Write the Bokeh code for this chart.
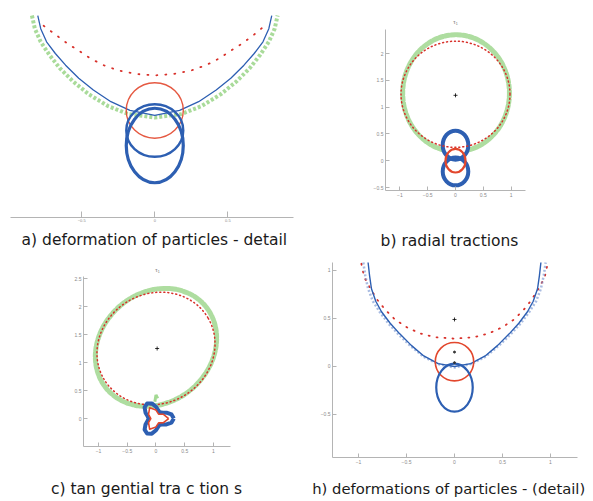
from bokeh.plotting import figure
from bokeh.models import Range1d, FixedTicker, Label
from bokeh.layouts import column, row
from bokeh.embed import file_html
from bokeh.resources import INLINE

# ---------------- data ----------------
captions = ["a) deformation of particles - detail", "b) radial tractions",
            "c) tan gential   tra c tion s", "h) deformations of particles - (detail)"]
traction_title = "τ₁"

# panel a : deformation detail
a_xticks = [-0.5, 0, 0.5]
a_green_x = [-0.84, -0.82, -0.78, -0.72, -0.65, -0.56, -0.45, -0.32, -0.18, 0.0, 0.18, 0.32, 0.45, 0.56, 0.65, 0.72, 0.78, 0.82, 0.84]
a_green_y = [0.65, 0.56, 0.47, 0.38, 0.29, 0.20, 0.11, 0.03, -0.025, -0.048, -0.025, 0.03, 0.11, 0.20, 0.29, 0.38, 0.47, 0.56, 0.65]
a_blue_x = [-0.80, -0.78, -0.74, -0.68, -0.61, -0.52, -0.42, -0.30, -0.17, 0.0, 0.17, 0.30, 0.42, 0.52, 0.61, 0.68, 0.74, 0.78, 0.80]
a_blue_y = [0.65, 0.56, 0.47, 0.39, 0.31, 0.22, 0.14, 0.06, 0.0, -0.034, 0.0, 0.06, 0.14, 0.22, 0.31, 0.39, 0.47, 0.56, 0.65]
a_red_x = [-0.76, -0.68, -0.60, -0.52, -0.44, -0.35, -0.25, -0.13, 0.0, 0.13, 0.25, 0.35, 0.44, 0.52, 0.60, 0.68, 0.74]
a_red_y = [0.58, 0.52, 0.46, 0.41, 0.356, 0.31, 0.274, 0.25, 0.24, 0.25, 0.274, 0.31, 0.356, 0.41, 0.46, 0.52, 0.57]
a_red_circle = dict(x=0.0, y=0.0, w=0.39, h=0.38)
a_blue_oval = dict(x=0.0, y=-0.24, w=0.39, h=0.51)
a_blue_ring = dict(x=0.0, y=-0.137, w=0.39, h=0.36)

# panel b : radial tractions
b_xticks = [-1, -0.5, 0, 0.5, 1]
b_yticks = [-0.5, 0, 0.5, 1, 1.5, 2]
b_green = dict(x=0.01, y=1.26, w=1.92, h=2.18)
b_red_dot = dict(x=0.0, y=1.24, w=1.96, h=1.98)
b_blue_upper = dict(x=0.0, y=0.29, w=0.46, h=0.54)
b_blue_lower = dict(x=0.0, y=-0.20, w=0.46, h=0.52)
b_red_circle = dict(x=0.0, y=0.0, w=0.36, h=0.44)
b_center = (0.0, 1.22)

# panel c : tangential tractions
c_xticks = [-1, -0.5, 0, 0.5, 1]
c_yticks = [0, 0.5, 1, 1.5, 2, 2.5]
c_green = dict(x=0.0, y=1.27, w=2.24, h=1.96, angle=40)
c_red_dot = dict(x=0.0, y=1.25, w=2.10, h=1.96, angle=30)
c_blue_x = [0.31, 0.27, 0.182, 0.106, 0.065, 0.039, 0.0, -0.073, -0.155, -0.198, -0.182, -0.145, -0.13,
            -0.145, -0.182, -0.198, -0.155, -0.073, 0.0, 0.039, 0.065, 0.106, 0.182, 0.27, 0.31]
c_blue_y = [0.0, 0.073, 0.105, 0.106, 0.113, 0.145, 0.21, 0.27, 0.268, 0.198, 0.105, 0.039, 0.0,
            -0.039, -0.105, -0.198, -0.268, -0.27, -0.21, -0.145, -0.113, -0.106, -0.105, -0.073, 0.0]
c_red_x = [0.22, 0.13, 0.045, 0.0, -0.11, -0.13, -0.09, -0.13, -0.11, 0.0, 0.045, 0.13, 0.22]
c_red_y = [0.0, 0.075, 0.078, 0.15, 0.19, 0.075, 0.0, -0.075, -0.19, -0.15, -0.078, -0.075, 0.0]
c_green_tail_x = [-0.02, 0.0, 0.03]
c_green_tail_y = [0.30, 0.42, 0.36]
c_center = (0.02, 1.25)

# panel h/d : deformation detail
d_xticks = [-1, -0.5, 0, 0.5, 1]
d_yticks = [-0.5, 0, 0.5, 1]
d_blue_x = [-0.90, -0.885, -0.865, -0.82, -0.76, -0.67, -0.57, -0.45, -0.32, -0.17, 0.0,
            0.17, 0.32, 0.45, 0.57, 0.67, 0.76, 0.82, 0.865, 0.885, 0.90]
d_blue_y = [1.083, 0.95, 0.81, 0.68, 0.57, 0.45, 0.34, 0.22, 0.11, 0.03, 0.0,
            0.03, 0.11, 0.22, 0.34, 0.45, 0.57, 0.68, 0.81, 0.95, 1.083]
d_bluemk_x = [-0.95, -0.93, -0.90, -0.85, -0.78, -0.69, -0.58, -0.46, -0.32, -0.17, 0.0,
              0.17, 0.32, 0.46, 0.58, 0.69, 0.78, 0.85, 0.90, 0.93, 0.95]
d_bluemk_y = [1.083, 0.95, 0.81, 0.68, 0.57, 0.45, 0.33, 0.215, 0.10, 0.025, -0.01,
              0.025, 0.10, 0.215, 0.33, 0.45, 0.57, 0.68, 0.81, 0.95, 1.083]
d_red_x = [-0.97, -0.94, -0.875, -0.80, -0.72, -0.62, -0.50, -0.36, -0.20, 0.0,
           0.20, 0.36, 0.50, 0.62, 0.72, 0.80, 0.875, 0.94, 0.97]
d_red_y = [1.07, 0.93, 0.81, 0.69, 0.59, 0.49, 0.41, 0.345, 0.305, 0.29,
           0.305, 0.345, 0.41, 0.49, 0.59, 0.69, 0.81, 0.93, 1.07]
d_red_circle = dict(x=0.0, y=0.05, w=0.40, h=0.40)
d_blue_oval = dict(x=0.0, y=-0.22, w=0.38, h=0.50)
d_center = (0.0, 0.49)
d_small_pts_x = [0.0, 0.0]
d_small_pts_y = [0.15, 0.04]

# ---------------- styles ----------------
BLUE = "#2d5fb2"
RED = "#e2472d"
REDDOT = "#d8302a"
GREEN = "#8ccf78"
AXIS = "#b4b4b4"
TICKLAB = "#8a8a8a"
CAP_FONT = "DejaVu Sans"


def make_fig(w, h, xr, yr):
    p = figure(width=w, height=h, x_range=Range1d(*xr), y_range=Range1d(*yr),
               output_backend="svg", toolbar_location=None, title=None,
               min_border_left=0, min_border_right=0, min_border_top=0, min_border_bottom=0)
    p.outline_line_color = None
    p.grid.visible = False
    p.background_fill_color = "white"
    p.border_fill_color = "white"
    for ax in p.axis:
        ax.axis_line_color = AXIS
        ax.major_tick_line_color = AXIS
        ax.minor_tick_line_color = None
        ax.major_tick_in = 4
        ax.major_tick_out = 0
        ax.major_label_text_font_size = "5px"
        ax.major_label_text_color = TICKLAB
        ax.major_label_standoff = 2
    return p


def set_axes(p, xb, yb, xticks, yticks):
    # x axis drawn at the bottom of the plotted box, y axis at its left edge
    p.xaxis.fixed_location = yb[0]
    p.xaxis.bounds = xb
    p.xaxis.ticker = FixedTicker(ticks=xticks)
    if yticks is None:
        p.yaxis.visible = False
    else:
        p.yaxis.fixed_location = xb[0]
        p.yaxis.bounds = yb
        p.yaxis.ticker = FixedTicker(ticks=yticks)


def caption(p, x, y, text, size="15.5px"):
    p.add_layout(Label(x=x, y=y, text=text, text_align="center", text_baseline="middle",
                       text_font=CAP_FONT, text_font_size=size, text_color="#1a1a1a"))


def small_title(p, x, y, text):
    p.add_layout(Label(x=x, y=y, text=text, text_align="center", text_baseline="middle",
                       text_font_size="6px", text_color="#777777"))


def ell(p, d, color, width, alpha=1.0, dash="solid", fill=None):
    p.ellipse(x=d["x"], y=d["y"], width=d["w"], height=d["h"], angle=d.get("angle", 0),
              angle_units="deg", fill_color=fill, line_color=color, line_width=width,
              line_alpha=alpha, line_dash=dash, line_cap="round")


# ---- panel a ----
pa = make_fig(300, 250, (-1.055, 0.9966), (-0.959, 0.753))
set_axes(pa, (-0.986, 0.952), (-0.733, 0.753), a_xticks, None)
pa.xaxis.major_label_text_font_size = "4px"
pa.xaxis.major_tick_in = 6
pa.line(a_green_x, a_green_y, line_color=GREEN, line_width=4, line_alpha=0.75, line_dash="3 2")
pa.line(a_blue_x, a_blue_y, line_color=BLUE, line_width=1.3)
pa.line(a_red_x, a_red_y, line_color=REDDOT, line_width=1.8, line_dash="1 8", line_cap="round")
ell(pa, a_red_circle, RED, 1.4, 0.9)
ell(pa, a_blue_ring, BLUE, 2.4)
ell(pa, a_blue_oval, BLUE, 3.2)
caption(pa, -0.003, -0.890, captions[0])

# ---- panel b ----
pb = make_fig(292, 250, (-2.788, 2.464), (-1.675, 2.989))
set_axes(pb, (-1.26, 1.26), (-0.556, 2.448), b_xticks, b_yticks)
ell(pb, b_green, GREEN, 5, 0.7, "4 2")
ell(pb, b_blue_upper, BLUE, 4, fill="white")
ell(pb, b_blue_lower, BLUE, 4)
ell(pb, b_red_dot, REDDOT, 1.5, 1.0, "1 3")
ell(pb, b_red_circle, RED, 2.2)
pb.scatter([b_center[0]], [b_center[1]], marker="cross", size=4, line_color="black", line_width=0.8)
small_title(pb, 0.0, 2.597, traction_title)
caption(pb, -0.108, -1.489, captions[1])

# ---- panel c ----
pc = make_fig(300, 250, (-2.704, 2.513), (-1.464, 3.0))
set_axes(pc, (-1.26, 1.296), (-0.5, 2.536), c_xticks, c_yticks)
ell(pc, c_green, GREEN, 5, 0.7, "4 2")
ell(pc, c_red_dot, REDDOT, 1.5, 1.0, "1 3")
pc.line(c_green_tail_x, c_green_tail_y, line_color=GREEN, line_width=3, line_alpha=0.8)
pc.line(c_blue_x, c_blue_y, line_color=BLUE, line_width=4, line_join="round")
pc.line(c_red_x, c_red_y, line_color=RED, line_width=1.6, line_join="round")
pc.scatter([c_center[0]], [c_center[1]], marker="cross", size=4, line_color="black", line_width=0.8)
small_title(pc, 0.026, 2.643, traction_title)
caption(pc, -0.078, -1.25, captions[2])

# ---- panel d ----
pd_ = make_fig(292, 250, (-1.604, 1.4375), (-1.396, 1.2083))
set_axes(pd_, (-1.27, 1.28), (-0.95, 1.083), d_xticks, d_yticks)
pd_.line(d_red_x, d_red_y, line_color=REDDOT, line_width=1.8, line_dash="1 7", line_cap="round")
pd_.line(d_bluemk_x, d_bluemk_y, line_color="#6f8fcf", line_width=2.5, line_alpha=0.6, line_dash="2 2")
pd_.line(d_blue_x, d_blue_y, line_color=BLUE, line_width=1.4)
ell(pd_, d_red_circle, RED, 1.6)
ell(pd_, d_blue_oval, BLUE, 2.2)
pd_.scatter([d_center[0]], [d_center[1]], marker="cross", size=4, line_color="black", line_width=0.8)
pd_.scatter(d_small_pts_x, d_small_pts_y, marker="circle", size=2, color="#333333")
caption(pd_, -0.06, -1.271, captions[3], size="14.8px")

layout = column(row(pa, pb), row(pc, pd_))
open("out.html", "w").write(file_html(layout, INLINE))
